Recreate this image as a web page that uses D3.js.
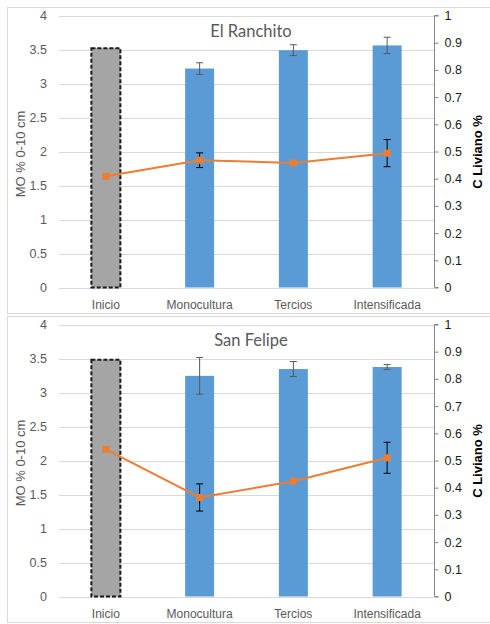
<!DOCTYPE html>
<html><head><meta charset="utf-8">
<script src="https://cdn.jsdelivr.net/npm/d3@7"></script>
<style>body{margin:0;background:#fff}svg{display:block}</style>
</head><body>
<script>
const categories = ["Inicio","Monocultura","Tercios","Intensificada"];
const titles = ["El Ranchito","San Felipe"];
const moRanchito = [3.52, 3.22, 3.49, 3.56];
const moRanchitoErr = [0, 0.085, 0.08, 0.12];
const cRanchito = [0.409, 0.468, 0.458, 0.494];
const cRanchitoErr = [0, 0.027, 0, 0.05];
const moSanFelipe = [3.48, 3.245, 3.345, 3.375];
const moSanFelipeErr = [0, 0.27, 0.11, 0.035];
const cSanFelipe = [0.541, 0.364, 0.424, 0.510];
const cSanFelipeErr = [0, 0.05, 0, 0.057];
const leftTicks = [0,0.5,1,1.5,2,2.5,3,3.5,4];
const rightTicks = [0,0.1,0.2,0.3,0.4,0.5,0.6,0.7,0.8,0.9,1];
const leftTitle = "MO % 0-10 cm";
const rightTitle = "C Liviano %";

const charts = [
  {title: titles[0], mo: moRanchito, moErr: moRanchitoErr, c: cRanchito, cErr: cRanchitoErr, top: 7},
  {title: titles[1], mo: moSanFelipe, moErr: moSanFelipeErr, c: cSanFelipe, cErr: cSanFelipeErr, top: 316}
];

const svg = d3.select("body").append("svg").attr("width",490).attr("height",624);
const font = "'Liberation Sans', Arial, sans-serif";

charts.forEach(ch => {
  const g = svg.append("g").attr("transform", `translate(0,${ch.top})`);
  g.append("rect").attr("x",7.5).attr("y",0.5).attr("width",490).attr("height",306)
    .attr("fill","#fff").attr("stroke","#d9d9d9").attr("stroke-width",1);
  const y0 = 280.5, y4 = 8.5;
  const x = d3.scaleBand().domain(categories).range([59,434]).paddingInner(0).paddingOuter(0);
  const yL = d3.scaleLinear().domain([0,4]).range([y0,y4]);
  const yR = d3.scaleLinear().domain([0,1]).range([y0,y4]);

  g.append("g").selectAll("line").data(leftTicks).join("line")
    .attr("x1",59).attr("x2",434).attr("y1",d=>Math.round(yL(d))+0.5).attr("y2",d=>Math.round(yL(d))+0.5)
    .attr("stroke","#d9d9d9").attr("stroke-width",1);

  g.append("g").selectAll("text").data(leftTicks).join("text")
    .attr("x",47).attr("y",d=>yL(d)).attr("dy","0.35em").attr("text-anchor","end")
    .attr("font-family",font).attr("font-size",12.5).attr("fill","#595959").text(d=>d);

  const rAxis = d3.axisRight(yR).tickValues(rightTicks).tickSize(4).tickFormat(d=>d);
  const ra = g.append("g").attr("transform","translate(434.5,0)").call(rAxis);
  ra.select(".domain").attr("stroke","#868686").attr("d",`M4,${y4}H0V${y0}H4`);
  ra.selectAll(".tick line").attr("stroke","#868686");
  ra.selectAll(".tick text").attr("x",10).attr("font-family",font).attr("font-size",12.5).attr("fill","#1a1a1a");

  const bw = 29;
  g.append("g").selectAll("rect").data(categories).join("rect")
    .attr("x",(d)=>x(d)+x.bandwidth()/2-bw/2).attr("width",bw)
    .attr("y",(d,i)=>yL(ch.mo[i])).attr("height",(d,i)=>y0-yL(ch.mo[i]))
    .attr("fill",(d,i)=>i===0?"#a5a5a5":"#5b9bd5")
    .attr("stroke",(d,i)=>i===0?"#1a1a1a":"none").attr("stroke-width",2)
    .attr("stroke-dasharray","4,2");

  const eb = g.append("g").attr("stroke","#595959").attr("stroke-width",1);
  categories.forEach((c,i)=>{
    if(!ch.moErr[i]) return;
    const cx = x(c)+x.bandwidth()/2, hi=yL(ch.mo[i]+ch.moErr[i]), lo=yL(ch.mo[i]-ch.moErr[i]);
    eb.append("line").attr("x1",cx).attr("x2",cx).attr("y1",hi).attr("y2",lo);
    eb.append("line").attr("x1",cx-3.5).attr("x2",cx+3.5).attr("y1",hi).attr("y2",hi);
    eb.append("line").attr("x1",cx-3.5).attr("x2",cx+3.5).attr("y1",lo).attr("y2",lo);
  });

  const pts = categories.map((c,i)=>[x(c)+x.bandwidth()/2, yR(ch.c[i])]);
  g.append("path").attr("d", d3.line()(pts))
    .attr("fill","none").attr("stroke","#ed7d31").attr("stroke-width",2);
  const le = g.append("g").attr("stroke","#000").attr("stroke-width",1);
  categories.forEach((c,i)=>{
    if(!ch.cErr[i]) return;
    const cx = x(c)+x.bandwidth()/2, hi=yR(ch.c[i]+ch.cErr[i]), lo=yR(ch.c[i]-ch.cErr[i]);
    le.append("line").attr("x1",cx).attr("x2",cx).attr("y1",hi).attr("y2",lo);
    le.append("line").attr("x1",cx-3.5).attr("x2",cx+3.5).attr("y1",hi).attr("y2",hi);
    le.append("line").attr("x1",cx-3.5).attr("x2",cx+3.5).attr("y1",lo).attr("y2",lo);
  });
  g.append("g").selectAll("rect").data(pts).join("rect")
    .attr("x",d=>d[0]-3.5).attr("y",d=>d[1]-3.5).attr("width",7).attr("height",7).attr("fill","#ed7d31");

  g.append("g").selectAll("text").data(categories).join("text")
    .attr("x",d=>x(d)+x.bandwidth()/2).attr("y",y0+21).attr("text-anchor","middle")
    .attr("font-family",font).attr("font-size",12).attr("fill","#595959").text(d=>d);

  g.append("text").attr("x",251).attr("y",30).attr("text-anchor","middle")
    .attr("font-family","Lato, 'Open Sans', sans-serif").attr("font-size",16.5).attr("fill","#595959").text(ch.title);

  g.append("text").attr("transform",`translate(25,147) rotate(-90)`).attr("text-anchor","middle")
    .attr("font-family",font).attr("font-size",13).attr("fill","#595959").text(leftTitle);
  g.append("text").attr("transform",`translate(482,145) rotate(-90)`).attr("text-anchor","middle")
    .attr("font-family",font).attr("font-size",13).attr("font-weight","bold").attr("fill","#000").text(rightTitle);
});
</script>
</body></html>
